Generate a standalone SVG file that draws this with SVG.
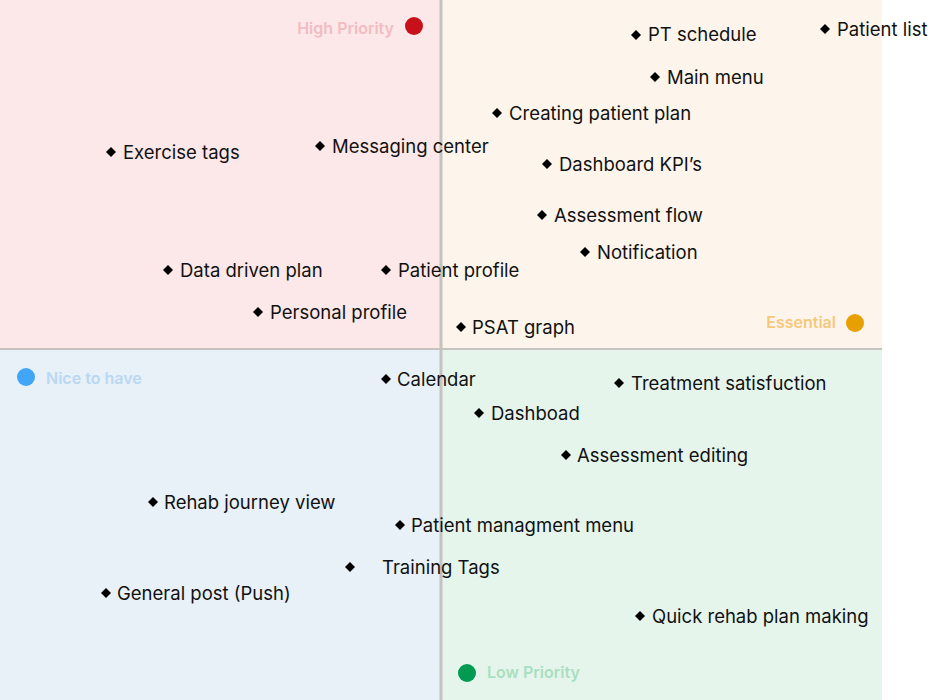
<svg xmlns="http://www.w3.org/2000/svg" width="929" height="700" viewBox="0 0 929 700">
<style>
.t{font-family:Inter,"Noto Sans","Liberation Sans",sans-serif;font-size:18.5px;fill:#111}
.q{font-family:Inter,"Noto Sans","Liberation Sans",sans-serif;font-size:16px;font-weight:600}
.d{fill:#000}
</style>
<defs>
<path id="dm" d="M0,-5L5,0L0,5L-5,0Z" class="d"/>
</defs>
<rect width="929" height="700" fill="#fff"/>
<g id="quadrants">
<rect x="0" y="0" width="441" height="349" fill="#fce8e8"/>
<rect x="441" y="0" width="441" height="349" fill="#fdf5eb"/>
<rect x="0" y="349" width="441" height="351" fill="#e8f0f8"/>
<rect x="441" y="349" width="441" height="351" fill="#e5f5ec"/>
</g>
<g id="connectors">
<line x1="441" y1="0" x2="441" y2="700" stroke="#c6c2c0" stroke-width="3"/>
<line x1="0" y1="349" x2="882" y2="349" stroke="#c6c2c0" stroke-width="2"/>
</g>
<g id="label-high">
<text class="q" x="394" y="34" text-anchor="end" fill="#f2bcc2">High Priority</text>
<circle cx="414" cy="26" r="9" fill="#c8101a"/>
</g>
<g id="label-essential">
<text class="q" x="836" y="328" text-anchor="end" fill="#f5c87c">Essential</text>
<circle cx="855" cy="323" r="9" fill="#e8a000"/>
</g>
<g id="label-nice">
<circle cx="26" cy="377" r="9" fill="#42a5f5"/>
<text class="q" x="46" y="384" fill="#b8d8f5">Nice to have</text>
</g>
<g id="label-low">
<circle cx="467" cy="673" r="9" fill="#009a50"/>
<text class="q" x="487" y="678" fill="#a8dfc0">Low Priority</text>
</g>
<g id="n-pt-schedule"><use href="#dm" x="636" y="35"/><text class="t" x="648" y="41">PT schedule</text></g>
<g id="n-patient-list"><use href="#dm" x="825" y="29"/><text class="t" x="837" y="36">Patient list</text></g>
<g id="n-main-menu"><use href="#dm" x="655" y="77"/><text class="t" x="667" y="84">Main menu</text></g>
<g id="n-creating-plan"><use href="#dm" x="497" y="113"/><text class="t" x="509" y="120">Creating patient plan</text></g>
<g id="n-exercise-tags"><use href="#dm" x="111" y="152"/><text class="t" x="123" y="159">Exercise tags</text></g>
<g id="n-messaging"><use href="#dm" x="320" y="146"/><text class="t" x="332" y="153">Messaging center</text></g>
<g id="n-kpi"><use href="#dm" x="547" y="164"/><text class="t" x="559" y="171">Dashboard KPI’s</text></g>
<g id="n-assessment-flow"><use href="#dm" x="542" y="215"/><text class="t" x="554" y="222">Assessment flow</text></g>
<g id="n-notification"><use href="#dm" x="585" y="252"/><text class="t" x="597" y="259">Notification</text></g>
<g id="n-data-plan"><use href="#dm" x="168" y="270"/><text class="t" x="180" y="277">Data driven plan</text></g>
<g id="n-patient-profile"><use href="#dm" x="386" y="270"/><text class="t" x="398" y="277">Patient profile</text></g>
<g id="n-personal-profile"><use href="#dm" x="258" y="312"/><text class="t" x="270" y="319">Personal profile</text></g>
<g id="n-psat"><use href="#dm" x="461" y="327"/><text class="t" x="472" y="334">PSAT graph</text></g>
<g id="n-calendar"><use href="#dm" x="386" y="379"/><text class="t" x="397" y="386">Calendar</text></g>
<g id="n-treatment"><use href="#dm" x="619" y="383"/><text class="t" x="631" y="390">Treatment satisfuction</text></g>
<g id="n-dashboad"><use href="#dm" x="479" y="413"/><text class="t" x="491" y="420">Dashboad</text></g>
<g id="n-assessment-editing"><use href="#dm" x="566" y="455"/><text class="t" x="577" y="462">Assessment editing</text></g>
<g id="n-rehab-journey"><use href="#dm" x="153" y="502"/><text class="t" x="164" y="509">Rehab journey view</text></g>
<g id="n-patient-mgmt"><use href="#dm" x="400" y="525"/><text class="t" x="411" y="532">Patient managment menu</text></g>
<g id="n-training-tags"><use href="#dm" x="350" y="567"/><text class="t" x="382" y="574">Training Tags</text></g>
<g id="n-general-post"><use href="#dm" x="106" y="593"/><text class="t" x="117" y="600">General post (Push)</text></g>
<g id="n-quick-rehab"><use href="#dm" x="640" y="616"/><text class="t" x="652" y="623">Quick rehab plan making</text></g>
</svg>
